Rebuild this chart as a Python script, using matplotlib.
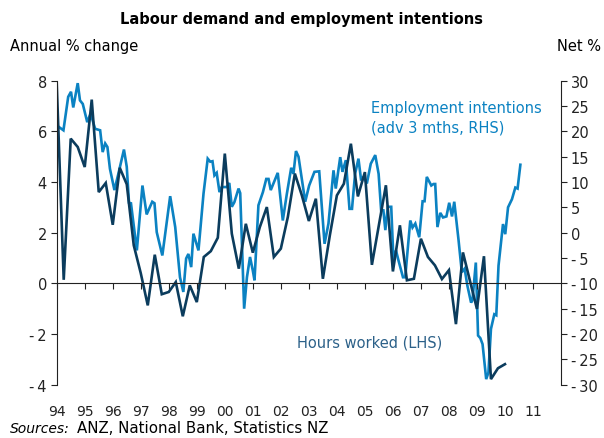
import numpy as np
import matplotlib
matplotlib.use("Agg")
import matplotlib.pyplot as plt
import matplotlib.ticker as mticker

plt.rcParams.update({
    "font.family": "DejaVu Sans", "font.size": 10,
    "axes.linewidth": 0.8, "axes.edgecolor": "#222222",
    "xtick.color": "#222222", "ytick.color": "#222222",
})
DARK = "#0b3c5d"
LIGHT = "#0b82c2"
HOURS_TXT = "#2c6189"

# hours worked, annual % change, quarterly from 1994Q1 (LHS)
hours_start = 1994.0
hours = [7.9, 0.14, 5.71, 5.38, 4.59, 7.25, 3.6, 3.96,
         2.31, 4.56, 3.91, 1.5, 0.4, -0.87, 1.13, -0.43,
         -0.34, 0.05, -1.3, -0.08, -0.74, 1.04, 1.27, 1.80,
         5.12, 1.96, 0.58, 2.35, 1.21, 2.22, 3.01, 1.04,
         1.37, 2.62, 4.33, 3.47, 2.46, 3.34, 0.18, 1.9,
         3.47, 3.93, 5.51, 3.43, 4.39, 0.73, 2.3, 3.87,
         0.47, 2.29, 0.12, 0.18, 1.76, 1.04, 0.71, 0.17,
         0.52, -1.61, 1.22, 0.1, -1.01, 1.07, -3.78, -3.35,
         -3.19]

# employment intentions, net %, advanced 3 months (RHS)
emp_t = [1994.04, 1994.24, 1994.41, 1994.51, 1994.59, 1994.75, 1994.83, 1994.93,
         1995.09, 1995.21, 1995.37, 1995.55, 1995.64, 1995.73, 1995.81, 1995.90,
         1996.06, 1996.20, 1996.40, 1996.50, 1996.58, 1996.65, 1996.86, 1997.06,
         1997.21, 1997.41, 1997.49, 1997.57, 1997.77, 1998.05, 1998.23, 1998.40,
         1998.52, 1998.62, 1998.70, 1998.80, 1998.88, 1999.06, 1999.24, 1999.39,
         1999.48, 1999.56, 1999.63, 1999.71, 1999.81, 1999.89, 2000.07, 2000.16,
         2000.25, 2000.34, 2000.49, 2000.55, 2000.69, 2000.79, 2000.90, 2001.00,
         2001.06, 2001.20, 2001.36, 2001.48, 2001.56, 2001.64, 2001.80, 2001.89,
         2002.07, 2002.21, 2002.37, 2002.45, 2002.54, 2002.63, 2002.87, 2003.01,
         2003.20, 2003.37, 2003.56, 2003.70, 2003.88, 2003.96, 2004.12, 2004.20,
         2004.32, 2004.45, 2004.54, 2004.65, 2004.77, 2004.86, 2004.96, 2005.07,
         2005.21, 2005.37, 2005.49, 2005.58, 2005.66, 2005.73, 2005.82, 2005.94,
         2006.02, 2006.11, 2006.20, 2006.36, 2006.44, 2006.62, 2006.70, 2006.80,
         2006.94, 2007.06, 2007.13, 2007.21, 2007.37, 2007.45, 2007.51, 2007.59,
         2007.69, 2007.79, 2007.91, 2008.01, 2008.11, 2008.19, 2008.34, 2008.46,
         2008.56, 2008.66, 2008.79, 2008.84, 2008.96, 2009.04, 2009.12, 2009.20,
         2009.33, 2009.41, 2009.50, 2009.62, 2009.69, 2009.77, 2009.93, 2010.01,
         2010.11, 2010.25, 2010.37, 2010.45, 2010.55]
emp = [21.0, 20.2, 26.8, 27.8, 24.7, 29.5, 26.1, 25.4,
       21.8, 23.5, 20.5, 20.2, 15.9, 17.6, 16.9, 12.6,
       8.4, 11.6, 16.4, 13.0, 5.9, 5.8, -3.5, 9.3,
       3.6, 6.1, 5.8, 0.1, -4.5, 7.2, 1.1, -8.8,
       -11.7, -5.1, -4.2, -6.8, -0.2, -3.5, 7.7, 14.6,
       14.0, 14.1, 11.3, 11.8, 8.0, 9.0, 9.0, 9.8,
       5.1, 6.0, 8.7, 7.8, -15.0, -8.8, -4.8, -7.5,
       -9.4, 5.4, 8.0, 10.6, 10.6, 8.4, 10.6, 11.8,
       2.4, 7.5, 12.8, 11.6, 16.1, 15.0, 6.1, 9.3,
       12.0, 12.1, -2.2, 1.8, 12.3, 8.7, 14.9, 12.0,
       14.3, 4.7, 4.7, 11.6, 14.6, 10.6, 11.0, 9.7,
       13.6, 15.3, 11.6, 4.4, 4.4, 0.5, 5.1, 5.1,
       -5.5, -3.5, -5.5, -8.8, -8.8, 2.4, 1.0, 1.8,
       -0.9, 6.2, 6.2, 11.0, 9.3, 9.6, 9.6, 1.1,
       3.9, 3.0, 3.2, 5.9, 3.2, 6.1, -1.3, -7.8,
       -7.1, -10.5, -13.8, -13.3, -5.9, -20.3, -20.8, -22.0,
       -28.9, -27.6, -19.0, -16.1, -16.3, -6.5, 1.7, -0.3,
       5.0, 6.6, 8.9, 8.7, 13.4]

years = list(range(1994, 2012))
year_labels = [f"{y % 100:02d}" for y in years]

hours_t = hours_start + 0.25 * np.arange(len(hours))

fig = plt.figure(figsize=(6.04, 4.39), dpi=100)
ax = fig.add_axes([0.0939, 0.1214, 0.8349, 0.6927])
ax2 = ax.twinx()

ax2.plot(emp_t, emp, color=LIGHT, lw=1.9, solid_joinstyle="miter")
ax.plot(hours_t, hours, color=DARK, lw=1.9, solid_joinstyle="miter")
ax.set_zorder(ax2.get_zorder() + 1)
ax.patch.set_visible(False)

ax.set_xlim(1994, 2012)
ax.set_ylim(-4, 8)
ax2.set_ylim(-30, 30)

def fmt(v, pos):
    v = int(round(v))
    return f"-\u2009{abs(v)}" if v < 0 else f"{v}"

ax.yaxis.set_major_locator(mticker.MultipleLocator(2))
ax2.yaxis.set_major_locator(mticker.MultipleLocator(5))
ax.yaxis.set_major_formatter(mticker.FuncFormatter(fmt))
ax2.yaxis.set_major_formatter(mticker.FuncFormatter(fmt))
ax.tick_params(axis="y", direction="out", length=4, width=0.8, labelsize=10.5, pad=3)
ax2.tick_params(axis="y", direction="out", length=4, width=0.8, labelsize=10.5, pad=3)

for a in (ax, ax2):
    a.spines["top"].set_visible(False)
ax2.spines["bottom"].set_visible(False)
ax2.spines["left"].set_visible(False)
ax.spines["right"].set_visible(False)
ax.spines["bottom"].set_position(("data", 0))
ax.set_xticks(years)
ax.tick_params(axis="x", direction="out", length=4, width=0.8, labelbottom=False)

# year labels sit under the plot, not under the zero line
sec = ax.secondary_xaxis("bottom")
sec.set_xticks(years, year_labels)
sec.tick_params(length=0, labelsize=10, pad=14)
sec.spines["bottom"].set_visible(False)

fig.text(0.5, 0.955, "Labour demand and employment intentions", ha="center",
         va="center", fontsize=10.5, fontweight="bold")
fig.text(0.017, 0.893, "Annual % change", ha="left", va="center", fontsize=10.5)
fig.text(0.995, 0.893, "Net %", ha="right", va="center", fontsize=10.5)

fig.text(0.614, 0.770, "Employment intentions\n(adv 3 mths, RHS)", ha="left",
         va="top", fontsize=10.5, color=LIGHT, linespacing=1.35)
fig.text(0.492, 0.219, "Hours worked (LHS)", ha="left", va="center",
         fontsize=10.5, color=HOURS_TXT)

src = fig.text(0.017, 0.006, "Sources:", ha="left", va="bottom",
               fontsize=10, style="italic")
ax.annotate("ANZ, National Bank, Statistics NZ", xy=(1, 0), xycoords=src,
            xytext=(5, 0), textcoords="offset points", ha="left", va="bottom",
            fontsize=10.8, annotation_clip=False)

fig.savefig("out.png", dpi=100)
